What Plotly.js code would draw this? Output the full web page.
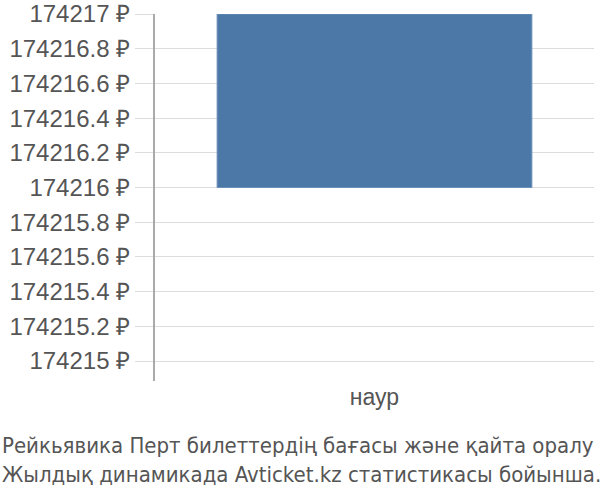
<!DOCTYPE html>
<html>
<head>
<meta charset="utf-8">
<script src="https://cdn.plot.ly/plotly-3.0.1.min.js"></script>
<style>html,body{margin:0;padding:0;background:#fff;}#chart{width:600px;height:500px;}</style>
</head>
<body>
<div id="chart"></div>
<script>
const categories = ['наур'];
const priceHigh = [174217];
const priceLow = [174216];
const tickValues = [174215, 174215.2, 174215.4, 174215.6, 174215.8, 174216, 174216.2, 174216.4, 174216.6, 174216.8, 174217];
const tickLabels = ['174215 ₽', '174215.2 ₽', '174215.4 ₽', '174215.6 ₽', '174215.8 ₽', '174216 ₽', '174216.2 ₽', '174216.4 ₽', '174216.6 ₽', '174216.8 ₽', '174217 ₽'];
const captionLines = ['Рейкьявика Перт билеттердің бағасы және қайта оралу', 'Жылдық динамикада Avticket.kz статистикасы бойынша.'];

const trace = {
  type: 'bar',
  x: categories,
  y: priceHigh.map((v, i) => v - priceLow[i]),
  base: priceLow,
  width: 0.717,
  marker: {color: '#4c78a8', line: {color: '#6d90ba', width: 1}},
  hoverinfo: 'none'
};

const layout = {
  width: 600, height: 500,
  margin: {l: 155, r: 6, t: 14, b: 119},
  paper_bgcolor: '#fff', plot_bgcolor: '#fff',
  showlegend: false,
  font: {family: '"Liberation Sans", Arial, sans-serif', color: '#555', size: 24},
  xaxis: {
    type: 'category',
    tickson: 'boundaries',
    showgrid: true, gridcolor: '#dddddd', gridwidth: 1,
    ticks: '', showline: false, zeroline: false,
    tickfont: {family: '"Liberation Sans", Arial, sans-serif', size: 23, color: '#555'},
    range: [-0.5, 0.5]
  },
  yaxis: {
    range: [174214.885, 174217],
    tickmode: 'array', tickvals: tickValues, ticktext: tickLabels,
    showgrid: true, gridcolor: '#dddddd', gridwidth: 1,
    ticks: 'outside', ticklen: 18, tickcolor: '#dddddd', tickwidth: 1,
    showline: true, linecolor: '#aaaaaa', linewidth: 2,
    zeroline: false,
    tickfont: {family: '"Liberation Sans", Arial, sans-serif', size: 24, color: '#555'},
    ticklabelstandoff: 0
  },
  annotations: [{
    xref: 'paper', yref: 'paper', x: -155/439, y: -0.135,
    xanchor: 'left', yanchor: 'top', align: 'left',
    showarrow: false,
    text: captionLines.join('<br>'),
    font: {family: '"DejaVu Sans Condensed", sans-serif', size: 22, color: '#555'}
  }]
};

Plotly.newPlot('chart', [trace], layout, {staticPlot: true, displayModeBar: false});
</script>
</body>
</html>
